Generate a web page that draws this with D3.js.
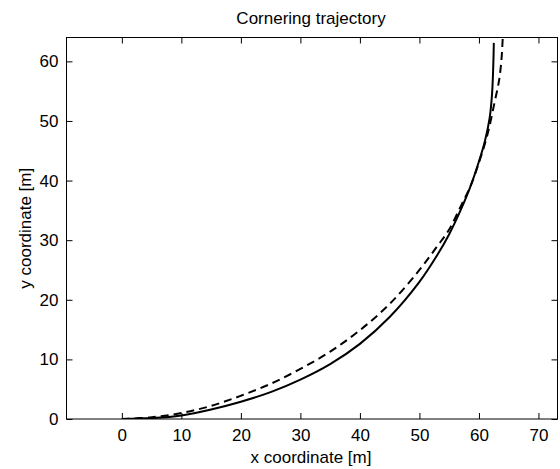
<!DOCTYPE html>
<html><head><meta charset="utf-8">
<script src="https://cdn.jsdelivr.net/npm/d3@7"></script>
<style>body{margin:0;background:#fff}svg{display:block}text{font-family:"Liberation Sans",Arial,sans-serif;fill:#000}</style>
</head><body>
<svg id="c" width="560" height="469"></svg>
<script>
const title = "Cornering trajectory";
const xLabel = "x coordinate [m]";
const yLabel = "y coordinate [m]";
const xTicks = [0, 10, 20, 30, 40, 50, 60, 70];
const yTicks = [0, 10, 20, 30, 40, 50, 60];
const solidX = [0, 5, 10, 15, 20, 25, 30, 35, 40, 45, 50, 53, 55, 57, 58.5, 60, 61, 61.8, 62.2, 62.4, 62.5];
const solidY = [0, 0.15, 0.6, 1.6, 2.9, 4.5, 6.6, 9.2, 12.6, 17.1, 23, 27.5, 31, 35.2, 38.8, 43.2, 46.6, 50.5, 54.5, 59, 63.1];
const dashedX = [0, 5, 10, 15, 20, 25, 30, 35, 40, 45, 50, 53, 55, 57, 58.5, 60, 61.5, 62.6, 63.4, 63.8, 64];
const dashedY = [0, 0.3, 1.0, 2.2, 3.9, 5.9, 8.4, 11.3, 14.9, 19.3, 25.0, 29.0, 31.8, 35.8, 38.9, 43, 48, 53, 56.9, 60.5, 64];

const svg = d3.select("#c");
const L = 66.5, R = 557.5, T = 37.5, B = 419;
const x = d3.scaleLinear().domain([-9.3, 73.2]).range([L, R]);
const y = d3.scaleLinear().domain([0, 64]).range([B, T]);

svg.append("defs").append("clipPath").attr("id","cp").append("rect")
  .attr("x", L).attr("y", T).attr("width", R-L).attr("height", B-T);

const line = d3.line().x(d=>x(d[0])).y(d=>y(d[1])).curve(d3.curveCatmullRom);
const g = svg.append("g").attr("clip-path","url(#cp)");
g.append("path").datum(solidX.map((v,i)=>[v, solidY[i]]))
  .attr("d", line).attr("fill","none").attr("stroke","#000").attr("stroke-width",2);
g.append("path").datum(dashedX.map((v,i)=>[v, dashedY[i]]))
  .attr("d", line).attr("fill","none").attr("stroke","#000").attr("stroke-width",2)
  .attr("stroke-dasharray","8,5");

const ax = svg.append("g");
const fmt = d3.format("d");
ax.append("g").attr("transform",`translate(0,${B})`)
  .call(d3.axisBottom(x).tickValues(xTicks).tickSize(-6).tickPadding(10).tickFormat(fmt));
ax.append("g").attr("transform",`translate(0,${T})`)
  .call(d3.axisTop(x).tickValues(xTicks).tickSize(-6).tickFormat(""));
ax.append("g").attr("transform",`translate(${L},0)`)
  .call(d3.axisLeft(y).tickValues(yTicks).tickSize(-6).tickPadding(8).tickFormat(fmt));
ax.append("g").attr("transform",`translate(${R},0)`)
  .call(d3.axisRight(y).tickValues(yTicks).tickSize(-6).tickFormat(""));
ax.selectAll(".domain").remove();
ax.selectAll(".tick line").attr("stroke","#000");
ax.selectAll(".tick text").attr("font-size",17).attr("font-family","Liberation Sans, Arial, sans-serif").attr("fill","#000");
svg.append("rect").attr("x",L).attr("y",T).attr("width",R-L).attr("height",B-T)
  .attr("fill","none").attr("stroke","#000").attr("stroke-width",1);

svg.append("text").attr("x", 311).attr("y", 24).attr("text-anchor","middle").attr("font-size",17).text(title);
svg.append("text").attr("x", 311).attr("y", 463).attr("text-anchor","middle").attr("font-size",17).text(xLabel);
svg.append("text").attr("transform",`translate(31,${(T+B)/2}) rotate(-90)`).attr("text-anchor","middle").attr("font-size",17).text(yLabel);
</script>
</body></html>
